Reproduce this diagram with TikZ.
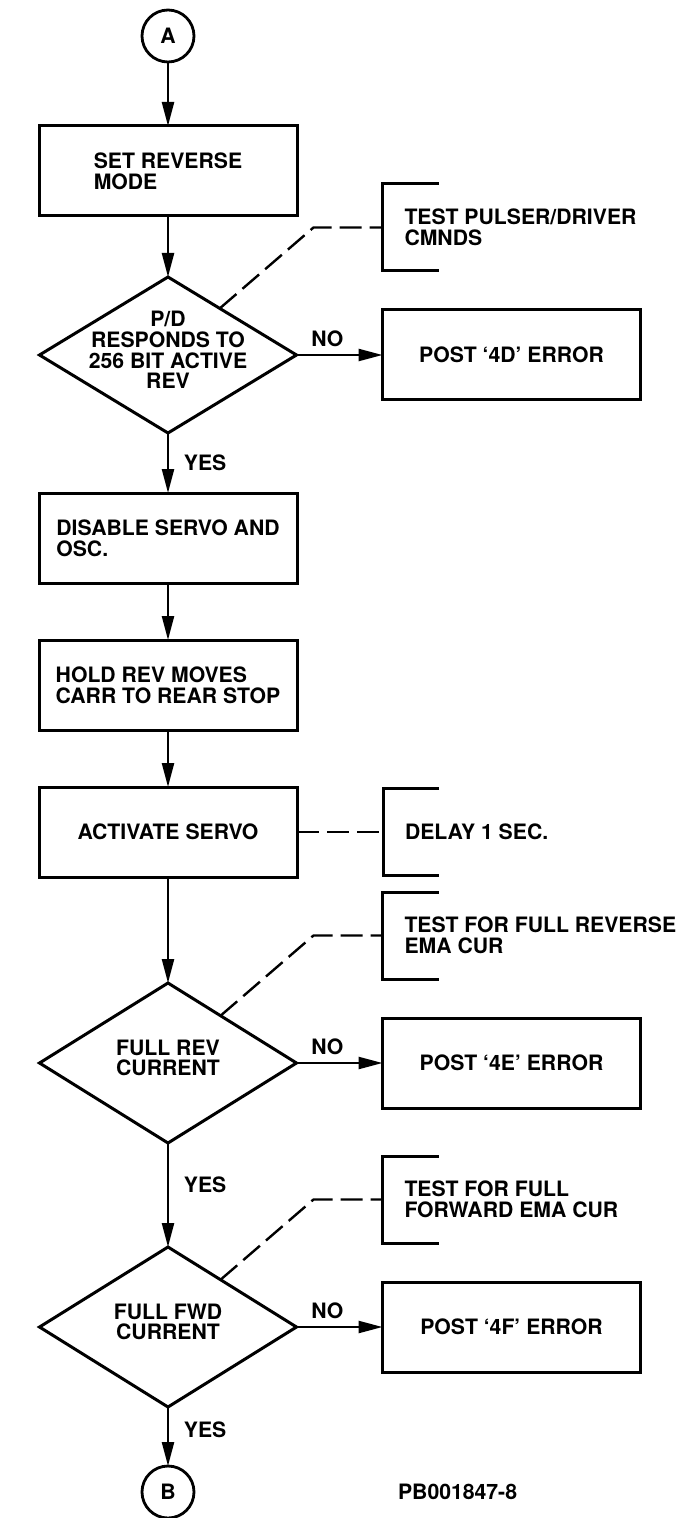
\documentclass[tikz,border=0pt]{standalone}
\usepackage{fontspec}
\setsansfont{TeX Gyre Heros}
\usetikzlibrary{positioning,arrows.meta,shapes.geometric}

\begin{document}
\begin{tikzpicture}[
  node distance=30pt,
  >={Triangle[length=12pt,width=6pt]},
  font=\sffamily\bfseries\fontsize{10.6pt}{10.3pt}\selectfont,
  box/.style={
    rectangle,
    draw=black,
    line width=1.5pt,
    outer sep=0pt,
    align=left,
    minimum width=129pt,
    minimum height=45pt
  },
  decision/.style={
    diamond,
    draw=black,
    line width=1.5pt,
    outer sep=0pt,
    minimum width=128.5pt,
    minimum height=80pt,
    inner sep=0pt
  },
  dtext/.style={
    align=center,
    yshift=2.5pt
  },
  connector/.style={
    circle,
    draw=black,
    line width=1.4pt,
    outer sep=0pt,
    minimum size=26pt,
    inner sep=0pt
  },
  note/.style={
    rectangle,
    align=left,
    outer sep=0pt,
    minimum height=43.5pt,
    inner xsep=11pt
  },
  nolabel/.style={pos=0.36, above},
  yeslabel/.style={right=4pt},
  bracket/.style={line width=1.5pt},
  arr/.style={->,line width=1.2pt},
  dashline/.style={line width=1.2pt,dash pattern=on 11pt off 4pt}
]

\useasboundingbox (0,0) rectangle (345pt,-759pt);

\node[connector] (startA) at (84pt,-18pt) {A};
\node[box, below=32pt of startA] (setrev) {SET REVERSE\\MODE};
\node[decision, minimum height=78pt, below=30.5pt of setrev,
  label={[dtext]center:P/D\\RESPONDS TO\\256 BIT ACTIVE\\REV}] (respond) {};
\node[box, below=30pt of respond] (disable) {DISABLE SERVO AND\\OSC.};
\node[box, below=28.5pt of disable] (holdrev) {HOLD REV MOVES\\CARR TO REAR STOP};
\node[box, below=28.5pt of holdrev] (activate) {ACTIVATE SERVO};
\node[decision, below=53pt of activate,
  label={[dtext]center:FULL REV\\CURRENT}] (fullrev) {};
\node[decision, below=52pt of fullrev,
  label={[dtext]center:FULL FWD\\CURRENT}] (fullfwd) {};
\node[connector, below=29.5pt of fullfwd] (endB) {B};

\node[box, right=43pt of respond] (post4d) {POST ‘4D’ ERROR};
\node[box, right=43pt of fullrev] (post4e) {POST ‘4E’ ERROR};
\node[box, right=43pt of fullfwd] (post4f) {POST ‘4F’ ERROR};

\node[note, above=19.5pt of post4d.north west, anchor=south west] (pulser) {TEST PULSER/DRIVER\\CMNDS};
\node[note, right=43pt of activate] (delay) {DELAY 1 SEC.};
\node[note, above=19.5pt of post4e.north west, anchor=south west] (revtest) {TEST FOR FULL REVERSE\\EMA CUR};
\node[note, above=19.5pt of post4f.north west, anchor=south west] (fwdtest) {TEST FOR FULL\\FORWARD EMA CUR};

\node[right=98.5pt of endB] (fignum) {PB001847-8};

\draw[arr] (startA) -- (setrev);
\draw[arr] (setrev) -- (respond);
\draw[arr] (respond) -- node[yeslabel, pos=0.5] (yes1) {YES} (disable);
\draw[arr] (disable) -- (holdrev);
\draw[arr] (holdrev) -- (activate);
\draw[arr] (activate) -- (fullrev);
\draw[arr] (fullrev) -- node[yeslabel, pos=0.4] (yes2) {YES} (fullfwd);
\draw[arr] (fullfwd) -- node[yeslabel, pos=0.38] (yes3) {YES} (endB);

\draw[arr] (respond) -- node[nolabel] (no1) {NO} (post4d);
\draw[arr] (fullrev) -- node[nolabel] (no2) {NO} (post4e);
\draw[arr] (fullfwd) -- node[nolabel] (no3) {NO} (post4f);

\draw[bracket] ([xshift=28pt]pulser.north west) -- (pulser.north west) -- (pulser.south west) -- ++(28pt,0);
\draw[bracket] ([xshift=28pt]delay.north west) -- (delay.north west) -- (delay.south west) -- ++(28pt,0);
\draw[bracket] ([xshift=28pt]revtest.north west) -- (revtest.north west) -- (revtest.south west) -- ++(28pt,0);
\draw[bracket] ([xshift=28pt]fwdtest.north west) -- (fwdtest.north west) -- (fwdtest.south west) -- ++(28pt,0);

\draw[dashline] (respond.42) -- ([xshift=-34.5pt]pulser.west) -- (pulser.west);
\draw[dashline] (activate) -- (delay);
\draw[dashline] (fullrev.42) -- ([xshift=-34.5pt]revtest.west) -- (revtest.west);
\draw[dashline] (fullfwd.42) -- ([xshift=-34.5pt]fwdtest.west) -- (fwdtest.west);

\end{tikzpicture}
\end{document}
